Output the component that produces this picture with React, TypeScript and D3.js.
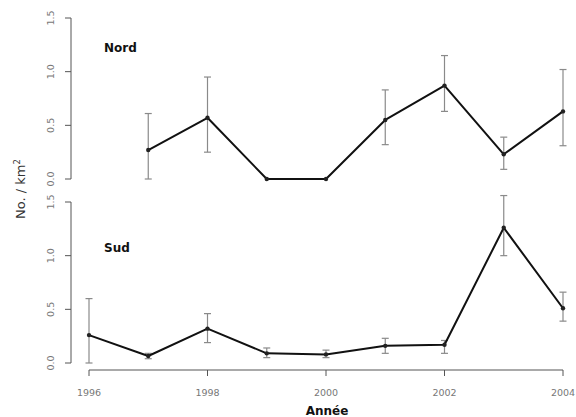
import React from "react";
import * as d3 from "d3";

// Densité (No. / km²) par année, avec bornes des barres d'erreur
const nordYears = [1997, 1998, 1999, 2000, 2001, 2002, 2003, 2004];
const nordMean = [0.27, 0.57, 0.0, 0.0, 0.55, 0.87, 0.23, 0.63];
const nordLow = [0.0, 0.25, null, null, 0.32, 0.63, 0.09, 0.31];
const nordHigh = [0.61, 0.95, null, null, 0.83, 1.15, 0.39, 1.02];

const sudYears = [1996, 1997, 1998, 1999, 2000, 2001, 2002, 2003, 2004];
const sudMean = [0.26, 0.065, 0.32, 0.09, 0.08, 0.16, 0.17, 1.26, 0.51];
const sudLow = [0.0, 0.04, 0.19, 0.05, 0.05, 0.09, 0.09, 1.0, 0.39];
const sudHigh = [0.6, 0.09, 0.46, 0.14, 0.12, 0.23, 0.21, 1.56, 0.66];

const yTicks = [0, 0.5, 1.0, 1.5];
const xTicks = [1996, 1998, 2000, 2002, 2004];

const W = 576;
const H = 417;

const x = d3.scaleLinear().domain([1996, 2004]).range([89, 563]);

type Panel = {
  name: string;
  years: number[];
  mean: number[];
  low: (number | null)[];
  high: (number | null)[];
  y: d3.ScaleLinear<number, number>;
  labelY: number;
};

const panels: Panel[] = [
  {
    name: "Nord",
    years: nordYears,
    mean: nordMean,
    low: nordLow,
    high: nordHigh,
    y: d3.scaleLinear().domain([0, 1.5]).range([179, 18]),
    labelY: 52,
  },
  {
    name: "Sud",
    years: sudYears,
    mean: sudMean,
    low: sudLow,
    high: sudHigh,
    y: d3.scaleLinear().domain([0, 1.5]).range([363, 202]),
    labelY: 252,
  },
];

const axisColor = "#555";
const tickText = "#777";
const errColor = "#8a8a8a";
const font = "'DejaVu Sans', sans-serif";

function PanelView({ p }: { p: Panel }) {
  const line = d3
    .line<number>()
    .x((_, i) => x(p.years[i]))
    .y((d) => p.y(d));
  const axisX = 71;
  return (
    <g>
      {/* axe vertical */}
      <line x1={axisX} x2={axisX} y1={p.y(0)} y2={p.y(1.5)} stroke={axisColor} strokeWidth={1} />
      {yTicks.map((t) => (
        <g key={t}>
          <line x1={axisX - 6} x2={axisX} y1={p.y(t)} y2={p.y(t)} stroke={axisColor} strokeWidth={1} />
          <text
            transform={`translate(${axisX - 17},${p.y(t)}) rotate(-90)`}
            textAnchor="middle"
            fontSize={9.5}
            fill={tickText}
            fontFamily={font}
          >
            {t.toFixed(1)}
          </text>
        </g>
      ))}
      <text x={104} y={p.labelY} fontSize={12} fontWeight="bold" fontFamily={font} fill="#111">
        {p.name}
      </text>
      {/* barres d'erreur */}
      {p.years.map((yr, i) => {
        const lo = p.low[i];
        const hi = p.high[i];
        if (lo == null || hi == null) return null;
        const cx = x(yr);
        return (
          <g key={yr} stroke={errColor} strokeWidth={1.2}>
            <line x1={cx} x2={cx} y1={p.y(lo)} y2={p.y(hi)} />
            <line x1={cx - 3.5} x2={cx + 3.5} y1={p.y(lo)} y2={p.y(lo)} />
            <line x1={cx - 3.5} x2={cx + 3.5} y1={p.y(hi)} y2={p.y(hi)} />
          </g>
        );
      })}
      <path d={line(p.mean) ?? ""} fill="none" stroke="#111" strokeWidth={2} strokeLinejoin="round" />
      {p.mean.map((v, i) => (
        <circle key={i} cx={x(p.years[i])} cy={p.y(v)} r={2.2} fill="#222" />
      ))}
    </g>
  );
}

export default function App() {
  const axisY = 370;
  return (
    <svg width={W} height={H} style={{ position: "absolute", left: 0, top: 0, background: "#fff" }}>
      <rect width={W} height={H} fill="#fff" />
      {panels.map((p) => (
        <PanelView key={p.name} p={p} />
      ))}
      {/* axe des années */}
      <line x1={x(1996)} x2={x(2004)} y1={axisY} y2={axisY} stroke={axisColor} strokeWidth={1} />
      {xTicks.map((t) => (
        <g key={t}>
          <line x1={x(t)} x2={x(t)} y1={axisY} y2={axisY + 6} stroke={axisColor} strokeWidth={1} />
          <text x={x(t)} y={396} textAnchor="middle" fontSize={9.5} fill={tickText} fontFamily={font}>
            {t}
          </text>
        </g>
      ))}
      <text x={327} y={415} textAnchor="middle" fontSize={12} fontWeight="bold" fontFamily={font} fill="#111">
        Année
      </text>
      <text
        transform="translate(25,189) rotate(-90)"
        textAnchor="middle"
        fontSize={13}
        fill="#333"
        fontFamily={font}
      >
        No. / km
        <tspan fontSize={8.5} dy={-5}>
          2
        </tspan>
      </text>
    </svg>
  );
}
